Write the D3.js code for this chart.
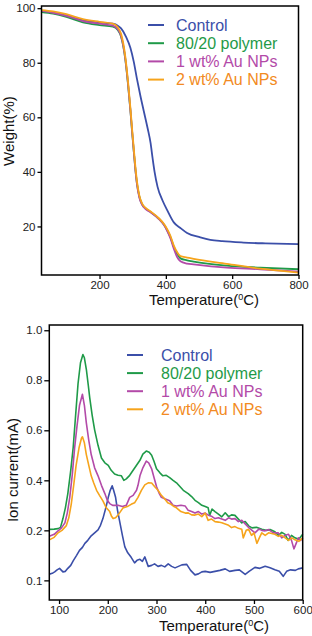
<!DOCTYPE html>
<html>
<head>
<meta charset="utf-8">
<script src="https://cdn.jsdelivr.net/npm/d3@7"></script>
<style>
    body { margin: 0; background: #fff; }
    svg text { font-family: "Liberation Sans", Arial, sans-serif; }
</style>
</head>
<body>
<div id="chart"></div>
<script>

// series names + colours (shared by both panels)
let seriesNames = ['Control', '80/20 polymer', '1 wt% Au NPs', '2 wt% Au NPs'];
let lineColors = ['#3b4fa9', '#1f9a48', '#b34aa8', '#f6a41c'];
let textColors = ['#3b4fa9', '#1f9a48', '#b34aa8', '#f28a22'];

// TGA: [temperature, weight %]
let tgaControl = [[25,99.0],[60,98.4],[100,97.3],[150,95.6],[200,94.8],[240,94.3],[255,93.6],[265,92.6],[280,89.5],[293,85.5],[303,80.5],[313,74],[323,68],[333,62.5],[345,56],[354,50.5],[360,45],[366,40],[375,34.5],[390,29.5],[404,26],[424,21.5],[444,19.4],[464,17.6],[504,16],[534,15.1],[570,14.6],[634,14.1],[700,13.8],[800,13.5]];
let tgaPolymer = [[25,98.6],[60,98],[100,96.8],[150,94.8],[200,93.8],[240,93.2],[255,92],[265,89.5],[278,81],[286,72],[293,62.6],[298,55],[303,47.9],[308,41],[313,35.6],[320,31],[328,28.2],[340,26.5],[354,25.3],[379,22.8],[395,20.5],[404,18.6],[414,16],[424,12.5],[434,10],[444,8.3],[464,7.6],[484,7.1],[584,5.6],[685,4.9],[800,4.3]];
let tgaAu1 = [[25,99],[60,98.3],[100,97.2],[150,95.3],[200,94.3],[240,93.6],[255,92.3],[265,89.8],[278,81.2],[286,72.2],[293,62.8],[298,55.2],[303,48],[308,41],[313,35.4],[320,30.6],[328,28],[340,26.3],[354,25.2],[379,22.7],[395,20.4],[404,18.4],[414,15.6],[424,11.8],[434,8.8],[444,7.2],[464,6.4],[484,6.1],[584,4.9],[685,4.3],[800,3.4]];
let tgaAu2 = [[25,99.3],[60,98.8],[100,97.8],[150,96],[200,95],[240,94.3],[255,93],[265,90.6],[278,82],[286,73],[293,63.6],[298,56],[303,49],[308,42],[313,36.4],[320,31.4],[328,28.5],[340,26.7],[354,25.5],[379,23],[395,20.8],[404,19],[414,16.5],[424,13],[434,10.6],[444,9.1],[464,8.6],[484,8.1],[584,6.3],[685,4.5],[800,3.1]];

// ion current: [temperature, mA]
let ionControl = [[80,0.112],[86,0.114],[91,0.117],[96,0.121],[101,0.124],[108,0.117],[113,0.118],[118,0.124],[124,0.13],[129,0.139],[136,0.15],[142,0.16],[148,0.166],[153,0.174],[159,0.18],[166,0.189],[173,0.195],[180,0.202],[185,0.22],[190,0.247],[196,0.29],[201,0.332],[205,0.36],[209,0.378],[212,0.36],[216,0.332],[220,0.28],[225,0.23],[230,0.19],[235,0.167],[241,0.155],[248,0.146],[255,0.135],[260,0.14],[266,0.142],[271,0.138],[276,0.147],[283,0.128],[290,0.13],[296,0.133],[303,0.128],[310,0.13],[317,0.127],[324,0.133],[331,0.128],[338,0.125],[345,0.128],[352,0.131],[362,0.132],[370,0.12],[379,0.111],[386,0.113],[393,0.117],[400,0.118],[410,0.116],[420,0.118],[430,0.12],[441,0.123],[450,0.118],[461,0.12],[470,0.121],[482,0.112],[490,0.118],[502,0.126],[512,0.124],[523,0.128],[533,0.125],[543,0.121],[552,0.118],[560,0.108],[567,0.118],[575,0.121],[585,0.12],[591,0.123],[600,0.125]];
let ionPolymer = [[80,0.204],[90,0.205],[98,0.207],[103,0.212],[108,0.247],[113,0.29],[118,0.347],[124,0.44],[129,0.531],[134,0.66],[139,0.787],[144,0.87],[149,0.903],[152,0.89],[156,0.844],[160,0.78],[163,0.73],[168,0.66],[173,0.602],[180,0.54],[187,0.489],[194,0.47],[201,0.46],[207,0.44],[214,0.425],[221,0.42],[228,0.418],[233,0.4],[238,0.406],[245,0.42],[252,0.44],[259,0.46],[266,0.48],[272,0.505],[279,0.517],[285,0.512],[290,0.5],[295,0.475],[300,0.446],[307,0.43],[313,0.418],[320,0.42],[327,0.411],[334,0.4],[341,0.39],[348,0.375],[355,0.36],[365,0.347],[372,0.335],[379,0.32],[386,0.311],[393,0.3],[400,0.295],[406,0.29],[409,0.26],[414,0.285],[420,0.275],[427,0.265],[434,0.254],[441,0.27],[448,0.255],[454,0.262],[461,0.26],[468,0.245],[475,0.23],[482,0.235],[489,0.218],[496,0.21],[505,0.212],[516,0.204],[525,0.2],[533,0.203],[543,0.197],[550,0.19],[557,0.196],[564,0.192],[570,0.18],[577,0.19],[584,0.185],[592,0.182],[600,0.192]];
let ionAu1 = [[80,0.188],[90,0.192],[98,0.199],[105,0.21],[112,0.23],[117,0.27],[122,0.332],[127,0.42],[132,0.531],[137,0.62],[142,0.7],[148,0.744],[152,0.7],[156,0.63],[161,0.56],[166,0.503],[173,0.45],[180,0.418],[187,0.38],[194,0.347],[199,0.32],[204,0.307],[210,0.3],[221,0.3],[230,0.295],[238,0.3],[245,0.332],[252,0.34],[259,0.36],[262,0.38],[266,0.418],[272,0.45],[279,0.477],[284,0.47],[290,0.446],[295,0.41],[300,0.375],[305,0.35],[310,0.332],[318,0.325],[327,0.318],[334,0.3],[341,0.297],[350,0.3],[359,0.297],[365,0.28],[372,0.275],[379,0.269],[386,0.275],[393,0.265],[400,0.269],[407,0.26],[414,0.255],[420,0.247],[427,0.25],[434,0.245],[441,0.24],[448,0.25],[454,0.245],[461,0.247],[468,0.235],[475,0.24],[482,0.226],[490,0.21],[496,0.2],[502,0.195],[510,0.205],[516,0.2],[523,0.199],[530,0.203],[540,0.195],[550,0.195],[557,0.185],[564,0.19],[571,0.192],[577,0.18],[582,0.163],[587,0.175],[591,0.185],[596,0.18],[600,0.185]];
let ionAu2 = [[80,0.181],[90,0.186],[98,0.195],[106,0.2],[115,0.219],[120,0.25],[125,0.304],[130,0.38],[135,0.46],[141,0.53],[146,0.568],[148,0.574],[152,0.55],[156,0.503],[161,0.46],[166,0.418],[171,0.39],[177,0.36],[183,0.34],[190,0.318],[197,0.29],[204,0.275],[208,0.255],[211,0.247],[216,0.25],[221,0.261],[226,0.275],[231,0.289],[240,0.295],[248,0.304],[255,0.31],[262,0.332],[269,0.36],[276,0.382],[283,0.39],[290,0.389],[296,0.375],[303,0.36],[310,0.34],[317,0.325],[323,0.31],[330,0.304],[336,0.295],[341,0.29],[350,0.275],[359,0.269],[365,0.27],[372,0.262],[379,0.261],[386,0.265],[393,0.255],[400,0.269],[406,0.24],[413,0.245],[420,0.235],[427,0.233],[434,0.23],[441,0.225],[448,0.22],[454,0.211],[461,0.215],[468,0.208],[475,0.204],[478,0.185],[484,0.2],[489,0.204],[495,0.19],[500,0.195],[506,0.174],[511,0.185],[516,0.195],[523,0.19],[530,0.195],[543,0.192],[550,0.188],[557,0.19],[564,0.185],[571,0.18],[578,0.185],[584,0.181],[592,0.178],[600,0.185]];

// tick values
let tgaXTicks = [200, 400, 600, 800];
let tgaYTicks = [20, 40, 60, 80, 100];
let ionXTicks = [100, 200, 300, 400, 500, 600];
let ionYTicks = [0.1, 0.2, 0.4, 0.6, 0.8, 1.0];

let svg = d3.select('#chart').append('svg')
    .attr('width', 312)
    .attr('height', 636);

function drawPanel(cfg) {
    let w = cfg.box.right - cfg.box.left;
    let h = cfg.box.bottom - cfg.box.top;

    let g = svg.append('g')
        .attr('transform', `translate(${cfg.box.left},${cfg.box.top})`);

    let x = d3.scaleLinear().domain(cfg.xDomain).range([0, w]);
    let y = cfg.yScale(h);

    // lines
    let line = d3.line()
        .x(d => x(d[0]))
        .y(d => y(d[1]))
        .curve(cfg.curve);

    g.append('g')
        .selectAll('path')
        .data(cfg.series)
        .enter().append('path')
        .attr('d', d => line(d))
        .attr('fill', 'none')
        .attr('stroke', (d, i) => lineColors[i])
        .attr('stroke-width', cfg.lineWidth)
        .attr('stroke-linejoin', 'round');

    // axes
    let xAxis = d3.axisBottom(x).tickValues(cfg.xTicks).tickSize(4).tickPadding(2).tickSizeOuter(0);
    let yAxis = d3.axisLeft(y).tickValues(cfg.yTicks).tickSize(cfg.yTickSize).tickPadding(2).tickSizeOuter(0)
        .tickFormat(cfg.yFormat);

    let gx = g.append('g').attr('transform', `translate(0,${h})`).call(xAxis);
    let gy = g.append('g').call(yAxis);

    [gx, gy].forEach(a => {
        a.select('.domain').remove();
        a.selectAll('line').attr('stroke', '#000').attr('stroke-width', 1.3);
        a.selectAll('text').attr('font-size', 11.5).attr('fill', '#222')
            .attr('font-family', '"Liberation Sans", Arial, sans-serif');
    });

    // frame
    g.append('rect')
        .attr('width', w)
        .attr('height', h)
        .attr('fill', 'none')
        .attr('stroke', '#000')
        .attr('stroke-width', 1.5);

    // axis titles
    let xt = svg.append('text')
        .attr('x', cfg.xTitle[0])
        .attr('y', cfg.xTitle[1])
        .attr('text-anchor', 'middle')
        .attr('font-size', 15)
        .attr('fill', '#111');
    xt.append('tspan').text('Temperature(');
    xt.append('tspan').attr('font-size', 9).attr('dy', -5).text('0');
    xt.append('tspan').attr('dy', 5).text('C)');

    svg.append('text')
        .attr('transform', `translate(${cfg.yTitle[0]},${cfg.yTitle[1]}) rotate(-90)`)
        .attr('text-anchor', 'middle')
        .attr('font-size', 15)
        .attr('fill', '#111')
        .text(cfg.yLabel);

    // legend
    let lg = svg.append('g')
        .attr('transform', `translate(${cfg.legend.x},${cfg.legend.y})`);

    seriesNames.forEach((name, i) => {
        let row = lg.append('g').attr('transform', `translate(0,${i * cfg.legend.step})`);
        row.append('line')
            .attr('x1', 0).attr('x2', cfg.legend.len)
            .attr('y1', 0).attr('y2', 0)
            .attr('stroke', lineColors[i])
            .attr('stroke-width', 2);
        row.append('text')
            .attr('x', cfg.legend.textX)
            .attr('y', 5.5)
            .attr('font-size', 16)
            .attr('fill', textColors[i])
            .text(name);
    });
}

// top panel: TGA
drawPanel({
    box: {left: 41.5, top: 6, right: 298.5, bottom: 275},
    xDomain: [25, 800],
    yScale: h => d3.scaleLinear().domain([2.2, 100.8]).range([h, 0]),
    series: [tgaControl, tgaPolymer, tgaAu1, tgaAu2],
    curve: d3.curveMonotoneX,
    lineWidth: 1.8,
    xTicks: tgaXTicks,
    yTicks: tgaYTicks,
    yTickSize: 4,
    yFormat: d3.format('d'),
    xTitle: [204, 305],
    yTitle: [14, 131],
    yLabel: 'Weight(%)',
    legend: {x: 148, y: 25, step: 18.2, len: 16, textX: 28}
});

// bottom panel: ion current (the 0.1 label sits one step below 0.2)
drawPanel({
    box: {left: 49.3, top: 325, right: 302.7, bottom: 600},
    xDomain: [80, 600],
    yScale: h => {
        let pos = d3.scaleLinear().domain([-0.0785, 1.021]).range([h, 0]);
        return d3.scaleLinear().domain([0.1, 0.2, 1.0]).range([pos(0), pos(0.2), pos(1.0)]);
    },
    series: [ionControl, ionPolymer, ionAu1, ionAu2],
    curve: d3.curveLinear,
    lineWidth: 1.6,
    xTicks: ionXTicks,
    yTicks: ionYTicks,
    yTickSize: 5,
    yFormat: d3.format('.1f'),
    xTitle: [214, 631],
    yTitle: [18, 470],
    yLabel: 'Ion current(mA)',
    legend: {x: 127, y: 355, step: 18.1, len: 16, textX: 34}
});

</script>
</body>
</html>
